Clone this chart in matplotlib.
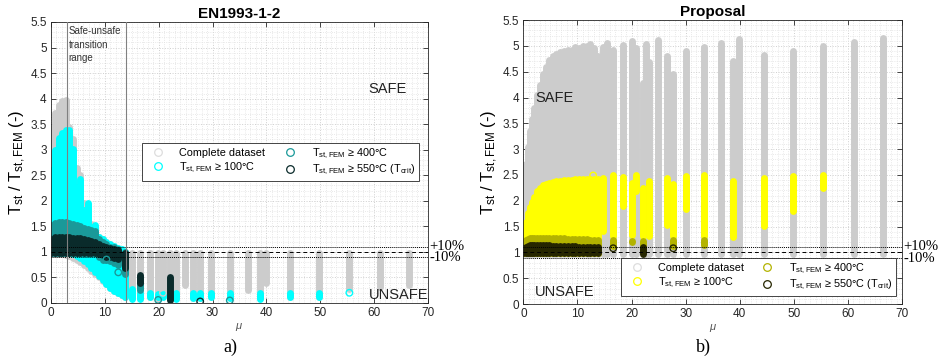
import numpy as np
import matplotlib
matplotlib.use('Agg')
import matplotlib.pyplot as plt
import matplotlib.transforms as mtransforms
from matplotlib.lines import Line2D
from matplotlib.ticker import MultipleLocator, FormatStrFormatter

nan = np.nan

plt.rcParams['font.family'] = ['Liberation Sans', 'DejaVu Sans']
plt.rcParams['mathtext.fontset'] = 'custom'
plt.rcParams['mathtext.rm'] = 'Liberation Sans'
plt.rcParams['mathtext.it'] = 'Liberation Sans:italic'

# ---- EN1993-1-2 (left) : columns of points ----
en_mu = [0, 0.7, 1.4, 2.1, 2.8, 3.4, 4.1, 4.8, 5.4, 6.1, 6.8, 7.5, 8.2, 8.9, 9.6, 10.3, 11.0, 11.7, 12.4, 13.1, 13.8,
         15.0, 16.5, 18.4, 19.9, 20.8, 22.1, 23.3, 24.9, 26.4, 27.7, 29.8, 33.2, 36.6, 38.8, 39.9, 44.4, 49.8, 55.4, 61.0, 66.5]
en_all_hi = [3.4, 3.72, 3.88, 3.95, 3.98, 3.45, 3.2, 2.65, 2.5, 1.95, 1.85, 1.55, 1.45, 1.3, 1.25, 1.2, 1.15, 1.1, 1.05, 1.0, 1.0,
             0.98, 0.98, 0.98, 0.98, 0.98, 0.98, 0.98, 0.98, 0.98, 0.98, 0.98, 0.98, 0.98, 0.98, 0.98, 0.98, 0.98, 0.98, 0.98, 0.98]
en_all_lo = [0.96, 0.96, 0.96, 0.95, 0.94, 0.92, 0.88, 0.84, 0.8, 0.74, 0.68, 0.62, 0.56, 0.5, 0.44, 0.37, 0.3, 0.24, 0.19, 0.15, 0.12,
             0.1, 0.1, 0.12, 0.08, 0.2, 0.05, 0.1, 0.36, 0.1, 0.1, 0.12, 0.1, 0.26, 0.1, 0.4, 0.12, 0.12, 0.27, 0.32, 0.36]
en_t100_hi = [2.6, 3.0, 3.22, 3.32, 3.38, 3.38, 3.02, 2.28, 2.42, 1.82, 1.95, 1.48, 1.53, 1.3, 1.25, 1.2, 1.15, 1.12, 1.08, 1.05, 1.0,
              0.28, 0.2, 0.19, 0.17, 0.17, nan, 0.19, nan, 0.19, 0.19, 0.19, 0.19, nan, 0.19, nan, 0.19, 0.19, nan, nan, nan]
en_t100_lo = [0.97, 0.97, 0.97, 0.97, 0.97, 0.97, 0.95, 0.92, 0.88, 0.82, 0.76, 0.68, 0.6, 0.52, 0.45, 0.38, 0.3, 0.24, 0.19, 0.15, 0.12,
              0.08, 0.08, 0.12, 0.12, 0.12, nan, 0.08, nan, 0.09, 0.09, 0.12, 0.09, nan, 0.08, nan, 0.12, 0.12, nan, nan, nan]
en_t400_hi = [1.52, 1.57, 1.58, 1.58, 1.58, 1.57, 1.55, 1.53, 1.5, 1.47, 1.44, 1.42, 1.4, 1.25, 1.2, 1.15, 1.1, 1.1, 1.05, nan, 1.0,
              nan, 0.4, nan, nan, nan, nan, nan, nan, nan, nan, nan, nan, nan, nan, nan, nan, nan, nan, nan, nan]
en_t400_lo = [0.97, 0.97, 0.97, 0.97, 0.97, 0.97, 0.97, 0.97, 0.97, 0.97, 0.97, 0.97, 0.97, 0.9, 0.85, 0.85, 0.82, 0.78, 0.75, nan, 0.57,
              nan, 0.25, nan, nan, nan, nan, nan, nan, nan, nan, nan, nan, nan, nan, nan, nan, nan, nan, nan, nan]
en_t550_hi = [1.26, 1.29, 1.3, 1.3, 1.29, 1.29, 1.28, 1.27, 1.27, 1.25, 1.24, 1.22, 1.19, 1.15, 1.12, 1.1, 1.08, 1.06, 1.03, nan, 0.98,
              nan, 0.55, nan, nan, nan, 0.5, nan, nan, nan, nan, nan, nan, nan, nan, nan, nan, nan, nan, nan, nan]
en_t550_lo = [0.98, 0.98, 0.98, 0.98, 0.98, 0.98, 0.98, 0.98, 0.98, 0.98, 0.98, 0.98, 0.97, 0.95, 0.93, 0.9, 0.9, 0.88, 0.86, nan, 0.68,
              nan, 0.4, nan, nan, nan, 0.05, nan, nan, nan, nan, nan, nan, nan, nan, nan, nan, nan, nan, nan, nan]
# single points drawn as open rings
en_ring_mu = [10.3, 12.5, 19.9, 33.2, 27.7, 20.8, 55.4]
en_ring_val = [0.85, 0.6, 0.06, 0.05, 0.03, 0.2, 0.2]
en_ring_cat = [2, 2, 2, 2, 3, 0, 1]

# ---- Proposal (right) ----
pr_mu = [0, 0.4, 0.8, 1.2, 1.6, 2.0, 2.5, 3.0, 3.6, 4.2, 4.8, 5.4, 6.1, 6.8, 7.5, 8.2, 8.9, 9.6, 10.3, 11.0, 11.7, 12.4, 13.1, 13.8,
         14.8, 15.4, 16.6, 18.4, 20.0, 20.8, 22.2, 22.6, 23.3, 24.9, 26.6, 27.7, 30.0, 33.3, 36.6, 38.8, 39.9, 44.4, 49.9, 55.4, 61.1, 66.5]
pr_all_hi = [2.3, 2.72, 3.05, 3.35, 3.58, 3.8, 4.05, 4.25, 4.45, 4.6, 4.72, 4.8, 4.85, 4.88, 4.91, 4.93, 4.93, 4.97, 4.95, 5.0, 5.0, 5.03, 4.95, 4.8,
             4.98, 5.05, 4.93, 5.01, 5.09, 4.95, 4.29, 5.03, 4.69, 5.11, 4.8, 4.45, 4.9, 4.97, 5.06, 4.71, 5.14, 4.82, 4.91, 5.0, 5.08, 5.15]
pr_all_lo = [0.96, 0.96, 0.96, 0.96, 0.96, 0.96, 0.96, 0.96, 0.96, 0.96, 0.96, 0.96, 0.96, 0.96, 0.96, 0.96, 0.96, 0.96, 0.96, 0.96, 0.96, 0.96, 0.96, 0.96,
             0.96, 0.96, 0.96, 0.96, 0.96, 0.96, 0.96, 0.96, 0.96, 0.96, 0.96, 0.96, 0.96, 0.96, 0.96, 0.96, 0.96, 0.96, 0.96, 0.96, 0.96, 0.96]
pr_t100_hi = [1.3, 1.58, 1.76, 1.88, 1.98, 2.08, 2.18, 2.25, 2.3, 2.33, 2.35, 2.37, 2.38, 2.39, 2.4, 2.41, 2.41, 2.42, 2.42, 2.42, 2.43, 2.43, 2.42, 2.42,
              2.44, nan, 2.5, 2.46, 2.34, 2.5, 2.24, nan, 2.39, nan, 2.44, 2.32, 2.48, 2.5, nan, 2.39, nan, 2.44, 2.48, 2.5, nan, nan]
pr_t100_lo = [0.98, 0.98, 0.98, 0.98, 0.98, 0.98, 0.98, 0.98, 0.98, 0.98, 0.98, 0.98, 0.98, 0.98, 0.98, 0.98, 0.98, 0.98, 0.98, 0.98, 0.98, 0.98, 0.98, 0.98,
              1.41, nan, 1.32, 1.89, 1.34, 2.18, 1.32, nan, 1.31, nan, 1.53, 1.31, 1.85, 1.31, nan, 1.29, nan, 1.51, 1.81, 2.25, nan, nan]
pr_t400_hi = [1.18, 1.24, 1.26, 1.27, 1.27, 1.28, 1.28, 1.28, 1.27, 1.27, 1.28, 1.27, 1.27, 1.27, 1.27, 1.26, 1.26, 1.26, 1.25, 1.25, 1.25, 1.24, 1.24, 1.24,
              nan, nan, 1.24, nan, 1.22, nan, 1.22, nan, nan, nan, nan, 1.24, nan, 1.24, nan, nan, nan, nan, nan, nan, nan, nan]
pr_t400_lo = [0.98, 0.98, 0.98, 0.98, 0.98, 0.98, 0.98, 0.98, 0.98, 0.98, 0.98, 0.98, 0.98, 0.98, 0.98, 0.98, 0.98, 0.98, 0.98, 0.98, 0.98, 0.98, 0.98, 0.98,
              nan, nan, 1.12, nan, 1.2, nan, 1.02, nan, nan, nan, nan, 1.12, nan, 1.14, nan, nan, nan, nan, nan, nan, nan, nan]
pr_t550_hi = [1.08, 1.11, 1.13, 1.14, 1.14, 1.15, 1.15, 1.15, 1.14, 1.14, 1.14, 1.13, 1.13, 1.13, 1.13, 1.12, 1.12, 1.12, 1.11, 1.11, 1.11, 1.1, 1.1, 1.1,
              nan, nan, nan, nan, nan, nan, 1.1, nan, nan, nan, nan, nan, nan, nan, nan, nan, nan, nan, nan, nan, nan, nan]
pr_t550_lo = [0.99, 0.99, 0.99, 0.99, 0.99, 0.99, 0.99, 0.99, 0.99, 0.99, 0.99, 0.99, 0.99, 0.99, 0.99, 0.99, 0.99, 0.99, 0.99, 0.99, 0.99, 0.99, 0.99, 0.99,
              nan, nan, nan, nan, nan, nan, 0.97, nan, nan, nan, nan, nan, nan, nan, nan, nan, nan, nan, nan, nan, nan, nan]
pr_ring_mu = [16.6, 27.7, 12.9]
pr_ring_val = [1.08, 1.08, 2.49]
pr_ring_cat = [3, 3, 1]

legend_labels = ['Complete dataset',
                 r'T$_{\rm st,FEM}$ ≥ 100°C',
                 r'T$_{\rm st,FEM}$ ≥ 400°C',
                 r'T$_{\rm st,FEM}$ ≥ 550°C (T$_{\rm crit}$)']

en_colors = ['#cccccc', '#00ffff', '#1a9999', '#0a2b2b']
pr_colors = ['#cccccc', '#ffff00', '#b3b300', '#262600']


def draw_cols(ax, mu, lo, hi, color):
  mu = np.asarray(mu, float)
  lo = np.asarray(lo, float)
  hi = np.asarray(hi, float)
  ok = ~np.isnan(lo) & ~np.isnan(hi)
  ax.vlines(mu[ok], lo[ok], hi[ok], colors=color, linewidth=5.0,
            capstyle='round', zorder=2)


def setup(ax, title):
  ax.set_xlim(0, 70)
  ax.set_ylim(0, 5.5)
  ax.xaxis.set_major_locator(MultipleLocator(10))
  ax.yaxis.set_major_locator(MultipleLocator(0.5))
  ax.xaxis.set_minor_locator(MultipleLocator(1))
  ax.yaxis.set_minor_locator(MultipleLocator(0.1))
  ax.yaxis.set_major_formatter(FormatStrFormatter('%g'))
  ax.tick_params(which='both', direction='in', top=True, right=True,
                 labelsize=8.5, colors='#262626', width=0.6)
  ax.tick_params(which='major', length=3.5, pad=3)
  ax.tick_params(which='minor', length=0)
  ax.grid(which='major', color='#cfcfcf', linestyle=':', linewidth=0.7)
  ax.grid(which='minor', color='#e2e2e2', linestyle=':', linewidth=0.6)
  ax.set_axisbelow(True)
  for s in ax.spines.values():
    s.set_color('#262626')
    s.set_linewidth(0.6)
  ax.set_title(title, fontsize=11, fontweight='bold', pad=3)
  ax.set_ylabel(r'T$_{\rm st}$ / T$_{\rm st,FEM}$ (-)', fontsize=12, labelpad=2)
  ax.set_xlabel(r'$\mu$', fontsize=8, color='#555555', labelpad=1)
  ax.axhline(1.0, color='k', linestyle=(0, (4, 3)), linewidth=0.7, zorder=3)
  ax.axhline(1.1, color='k', linestyle=(0, (1, 1)), linewidth=0.7, zorder=3)
  ax.axhline(0.9, color='k', linestyle=(0, (1, 1)), linewidth=0.7, zorder=3)
  tr = mtransforms.blended_transform_factory(ax.transAxes, ax.transData)
  ax.text(1.004, 1.11, '+10%', transform=tr, ha='left', va='center',
          fontsize=10.5, family='Liberation Serif')
  ax.text(1.004, 0.89, '-10%', transform=tr, ha='left', va='center',
          fontsize=10.5, family='Liberation Serif')


def draw_panel(ax, mu, cols, rings, colors):
  for (lo, hi), c in zip(cols, colors):
    draw_cols(ax, mu, lo, hi, c)
  rmu, rval, rcat = rings
  for m, v, k in zip(rmu, rval, rcat):
    ax.scatter([m], [v], s=22, facecolors='none', edgecolors=colors[k],
               linewidths=1.0, zorder=4)


def add_legend(ax, colors, bbox):
  handles = [Line2D([], [], linestyle='none', marker='o', markersize=5.5,
                    markerfacecolor='none', markeredgecolor=c, markeredgewidth=0.9)
             for c in colors]
  handles[0].set_markeredgecolor('#dddddd')
  leg = ax.legend(handles, legend_labels, ncol=2, loc='center', mode='expand',
                  bbox_to_anchor=bbox, fontsize=7.8, frameon=True, fancybox=False,
                  edgecolor='#262626', framealpha=1, handlelength=2.2,
                  handletextpad=0.9, columnspacing=1.0, borderpad=0.35,
                  labelspacing=0.2, borderaxespad=0)
  leg.get_frame().set_linewidth(0.6)
  leg.set_zorder(6)


fig = plt.figure(figsize=(9.44, 3.64), dpi=100)
ax1 = fig.add_axes([0.054, 0.1676, 0.3994, 0.772])
ax2 = fig.add_axes([0.5544, 0.1648, 0.4012, 0.780])

setup(ax1, 'EN1993-1-2')
setup(ax2, 'Proposal')

draw_panel(ax1, en_mu,
           [(en_all_lo, en_all_hi), (en_t100_lo, en_t100_hi),
            (en_t400_lo, en_t400_hi), (en_t550_lo, en_t550_hi)],
           (en_ring_mu, en_ring_val, en_ring_cat), en_colors)
draw_panel(ax2, pr_mu,
           [(pr_all_lo, pr_all_hi), (pr_t100_lo, pr_t100_hi),
            (pr_t400_lo, pr_t400_hi), (pr_t550_lo, pr_t550_hi)],
           (pr_ring_mu, pr_ring_val, pr_ring_cat), pr_colors)

# transition range of EN1993-1-2
ax1.axvline(3, color='#808080', linewidth=0.8, zorder=3)
ax1.axvline(14, color='#808080', linewidth=0.8, zorder=3)
ax1.text(3.3, 5.42, 'Safe-unsafe\ntransition\nrange', ha='left', va='top',
         fontsize=7, color='#333333', linespacing=1.45)

ax1.text(59.0, 4.19, 'SAFE', ha='left', va='center', fontsize=10.5, color='#222222')
ax1.text(59.0, 0.15, 'UNSAFE', ha='left', va='center', fontsize=10.5, color='#222222', zorder=5)
ax2.text(2.2, 4.0, 'SAFE', ha='left', va='center', fontsize=10.5, color='#222222')
ax2.text(2.2, 0.24, 'UNSAFE', ha='left', va='center', fontsize=10.5, color='#222222')

add_legend(ax1, en_colors, (0.241, 0.43, 0.735, 0.143))
add_legend(ax2, pr_colors, (0.258, 0.025, 0.726, 0.141))

fig.text(0.244, 0.045, 'a)', ha='center', va='center', fontsize=13, family='Liberation Serif')
fig.text(0.745, 0.045, 'b)', ha='center', va='center', fontsize=13, family='Liberation Serif')

fig.savefig('out.png', dpi=100)
